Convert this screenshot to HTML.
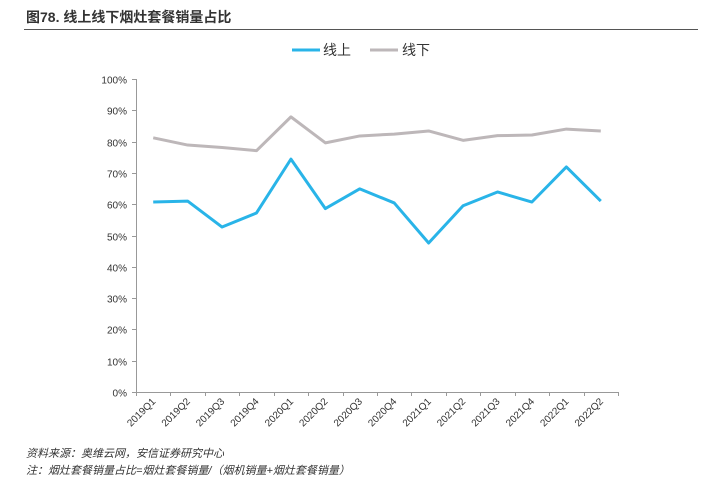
<!DOCTYPE html>
<html><head><meta charset="utf-8"><style>
body{margin:0;background:#fff;}
svg text{font-family:"Liberation Sans","Noto Sans CJK SC",sans-serif;}
</style></head><body>
<svg width="712" height="484" viewBox="0 0 712 484">
<text x="26" y="22" font-size="14" font-weight="bold" fill="#333">图78. 线上线下烟灶套餐销量占比</text>
<line x1="24" y1="29.5" x2="698" y2="29.5" stroke="#555" stroke-width="1"/>
<g>
<line x1="292" y1="50" x2="320" y2="50" stroke="#29b4e8" stroke-width="3"/>
<text x="323" y="55" font-size="14" fill="#333">线上</text>
<line x1="370" y1="50" x2="398" y2="50" stroke="#bdb7b9" stroke-width="3"/>
<text x="402" y="55" font-size="14" fill="#333">线下</text>
</g>
<g id="axes"></g>
<g id="series"></g>
<text x="26" y="457" font-size="11" font-style="italic" fill="#333">资料来源：奥维云网，安信证券研究中心</text>
<text x="26" y="474" font-size="11" font-style="italic" fill="#333">注：烟灶套餐销量占比=烟灶套餐销量/（烟机销量+烟灶套餐销量）</text>
</svg>
<script>
const categories=["2019Q1","2019Q2","2019Q3","2019Q4","2020Q1","2020Q2","2020Q3","2020Q4","2021Q1","2021Q2","2021Q3","2021Q4","2022Q1","2022Q2"];
const onlineValues=[60.7,61.0,52.7,57.2,74.4,58.6,64.9,60.4,47.6,59.5,63.9,60.7,71.9,61.0];
const offlineValues=[81.2,78.9,78.1,77.1,87.9,79.6,81.8,82.4,83.4,80.4,81.9,82.1,84.0,83.4];
const yTicks=[0,10,20,30,40,50,60,70,80,90,100];
const NS="http://www.w3.org/2000/svg";
const x0=136,x1=618,y0=392,y1=79;
const step=(x1-x0)/categories.length;
function xs(i){return x0+step*(i+0.5);}
function ys(v){return y0-(v/100)*(y0-y1);}
function mk(tag,attrs,parent){const e=document.createElementNS(NS,tag);for(const k in attrs)e.setAttribute(k,attrs[k]);parent.appendChild(e);return e;}
const ax=document.getElementById('axes');
const yl=mk('line',{x1:x0+.5,y1:y1,x2:x0+.5,y2:y0,stroke:'#999'},ax);


const xl=mk('line',{x1:x0,y1:y0+.5,x2:x1,y2:y0+.5,stroke:'#999'},ax);


yTicks.forEach(t=>{
 const y=Math.round(ys(t))+.5;
 mk('line',{x1:x0-4,y1:y,x2:x0,y2:y,stroke:'#999'},ax);
 const tx=mk('text',{x:x0-9,y:y+4,'font-size':10,'text-anchor':'end',fill:'#333'},ax);
 tx.textContent=t+'%';
 
 
});
for(let i=0;i<=categories.length;i++){
 const x=Math.round(x0+step*i)+.5;
 mk('line',{x1:x,y1:y0,x2:x,y2:y0+4,stroke:'#999'},ax);
}
categories.forEach((c,i)=>{
 const x=xs(i)+3,y=y0+10;
 const tx=mk('text',{x:x,y:y,'font-size':10,'text-anchor':'end',fill:'#333',transform:`rotate(-45 ${x} ${y})`},ax);
 tx.textContent=c;
 
 
});
const sg=document.getElementById('series');
function line(vals,color,name){
 const p=mk('polyline',{points:vals.map((v,i)=>xs(i)+','+ys(v)).join(' '),fill:'none',stroke:color,'stroke-width':3,'stroke-linejoin':'round'},sg);
 
 
}
line(offlineValues,'#bdb7b9','offline-line');
line(onlineValues,'#29b4e8','online-line');
</script>
</body></html>
